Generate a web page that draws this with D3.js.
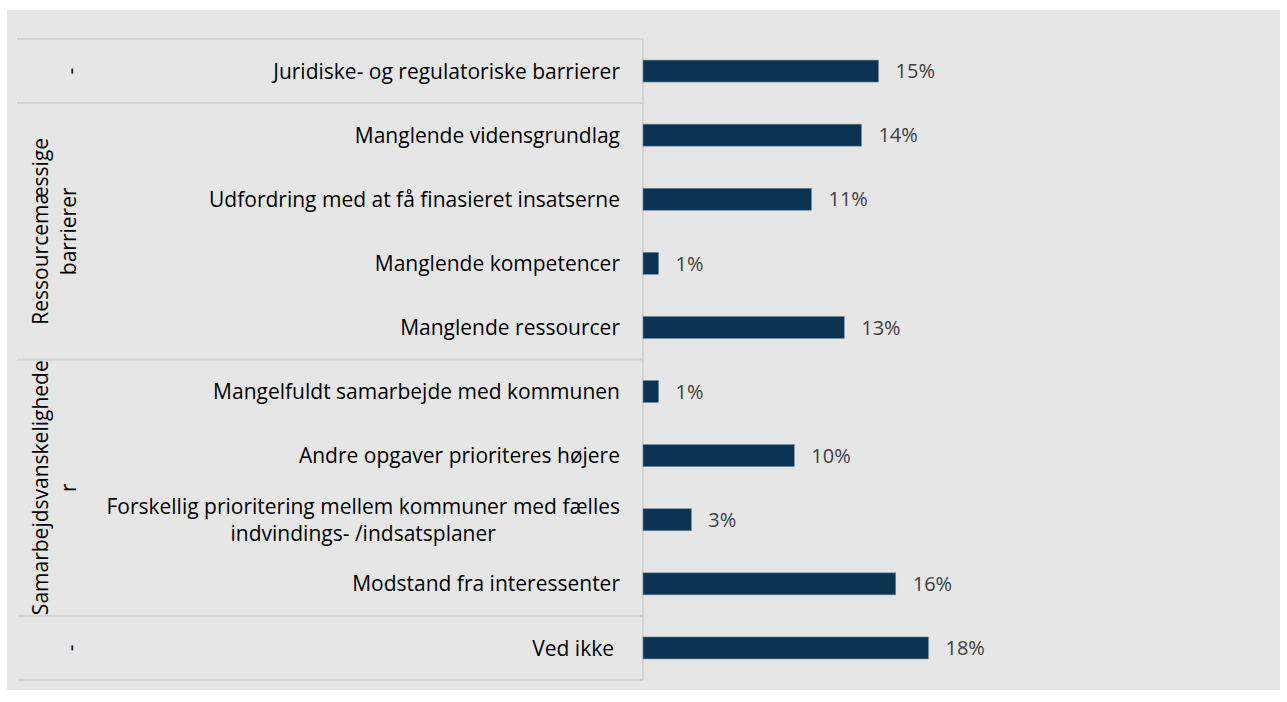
<!DOCTYPE html>
<html>
<head>
<meta charset="utf-8">
<script src="https://cdn.jsdelivr.net/npm/d3@7"></script>
<style>
  body { margin: 0; background: #fff; }
  text { font-family: "Open Sans", sans-serif; }
</style>
</head>
<body>
<div id="chart"></div>
<script>
var svgWidth = 1287;
var svgHeight = 702;

// data
var items = [
  "Juridiske- og regulatoriske barrierer",
  "Manglende vidensgrundlag",
  "Udfordring med at få finasieret insatserne",
  "Manglende kompetencer",
  "Manglende ressourcer",
  "Mangelfuldt samarbejde med kommunen",
  "Andre opgaver prioriteres højere",
  "Forskellig prioritering mellem kommuner med fælles|indvindings- /indsatsplaner",
  "Modstand fra interessenter",
  "Ved ikke"
];
var values = [15.1, 14.0, 10.8, 1.0, 12.9, 1.0, 9.7, 3.1, 16.2, 18.3];
var groups = [
  { label: ["-"], from: 0, to: 0 },
  { label: ["Ressourcemæssige", "barrierer"], from: 1, to: 4 },
  { label: ["Samarbejdsvanskelighede", "r"], from: 5, to: 8 },
  { label: ["-"], from: 9, to: 9 }
];

var tableLeft = 17, tableRight = 643, tableTop = 39, tableBottom = 680;
var labelSize = "21px";

var svg = d3.select("#chart")
  .append("svg")
  .attr("width", svgWidth)
  .attr("height", svgHeight);

// gray plot background
svg.append("rect")
  .attr("x", 7)
  .attr("y", 10)
  .attr("width", 1273)
  .attr("height", 680)
  .attr("fill", "#e6e6e6");

var rowY = d3.scaleLinear()
  .domain([0, items.length])
  .range([tableTop, tableBottom]);

var x = d3.scaleLinear()
  .domain([0, 40])
  .range([tableRight, tableRight + 624]);

// table lines
var lineColor = "#d3d3d3";
var bounds = [0].concat(groups.map(g => g.to + 1));
svg.selectAll("line.hsep")
  .data(bounds)
  .enter()
  .append("line")
  .attr("class", "hsep")
  .attr("x1", tableLeft)
  .attr("x2", tableRight)
  .attr("y1", d => rowY(d))
  .attr("y2", d => rowY(d))
  .attr("stroke", lineColor)
  .attr("stroke-width", 2);

svg.append("line")
  .attr("x1", tableRight)
  .attr("x2", tableRight)
  .attr("y1", tableTop)
  .attr("y2", tableBottom)
  .attr("stroke", lineColor)
  .attr("stroke-width", 2);

// bars
svg.selectAll("rect.bar")
  .data(values)
  .enter()
  .append("rect")
  .attr("class", "bar")
  .attr("x", x(0))
  .attr("y", (d, i) => rowY(i + 0.5) - 11)
  .attr("width", d => x(d) - x(0))
  .attr("height", 22)
  .attr("fill", "#0a3452")
  .attr("stroke", "#6f8aa3")
  .attr("stroke-width", 0.6);

// value labels
svg.selectAll("text.val")
  .data(values)
  .enter()
  .append("text")
  .attr("class", "val")
  .attr("x", d => x(d) + 17)
  .attr("y", (d, i) => rowY(i + 0.5))
  .attr("dy", "0.36em")
  .attr("font-size", "20px")
  .attr("fill", "#404040")
  .text(d => d3.format(".0f")(d) + "%");

// item labels
var labels = svg.selectAll("text.item")
  .data(items)
  .enter()
  .append("text")
  .attr("class", "item")
  .attr("font-size", labelSize)
  .attr("fill", "#000");

labels.each(function(d, i) {
  var parts = d.split("|");
  var t = d3.select(this);
  var cy = rowY(i + 0.5);
  if (parts.length === 1) {
    t.attr("text-anchor", "end")
      .attr("x", d === "Ved ikke" ? 614 : 620)
      .attr("y", cy)
      .attr("dy", "0.36em")
      .text(parts[0]);
  } else {
    // two lines, centred on the first line
    t.attr("text-anchor", "end")
      .attr("x", 620)
      .attr("y", cy - 13)
      .attr("dy", "0.36em")
      .text(parts[0]);
    var w = this.getComputedTextLength();
    svg.append("text")
      .attr("text-anchor", "middle")
      .attr("font-size", labelSize)
      .attr("fill", "#000")
      .attr("x", 620 - w / 2)
      .attr("y", cy + 14)
      .attr("dy", "0.36em")
      .text(parts[1]);
  }
});

// group labels (rotated)
groups.forEach(function(g) {
  var cy = (rowY(g.from) + rowY(g.to + 1)) / 2;
  if (g.label.length === 1) {
    svg.append("text")
      .attr("transform", `translate(70, ${cy}) rotate(-90)`)
      .attr("text-anchor", "middle")
      .attr("dy", "0.36em")
      .attr("font-size", labelSize)
      .attr("fill", "#000")
      .text(g.label[0]);
  } else {
    g.label.forEach(function(l, k) {
      svg.append("text")
        .attr("transform", `translate(${40 + k * 28}, ${cy}) rotate(-90)`)
        .attr("text-anchor", "middle")
        .attr("dy", "0.36em")
        .attr("font-size", labelSize)
        .attr("fill", "#000")
        .text(l);
    });
  }
});
</script>
</body>
</html>
